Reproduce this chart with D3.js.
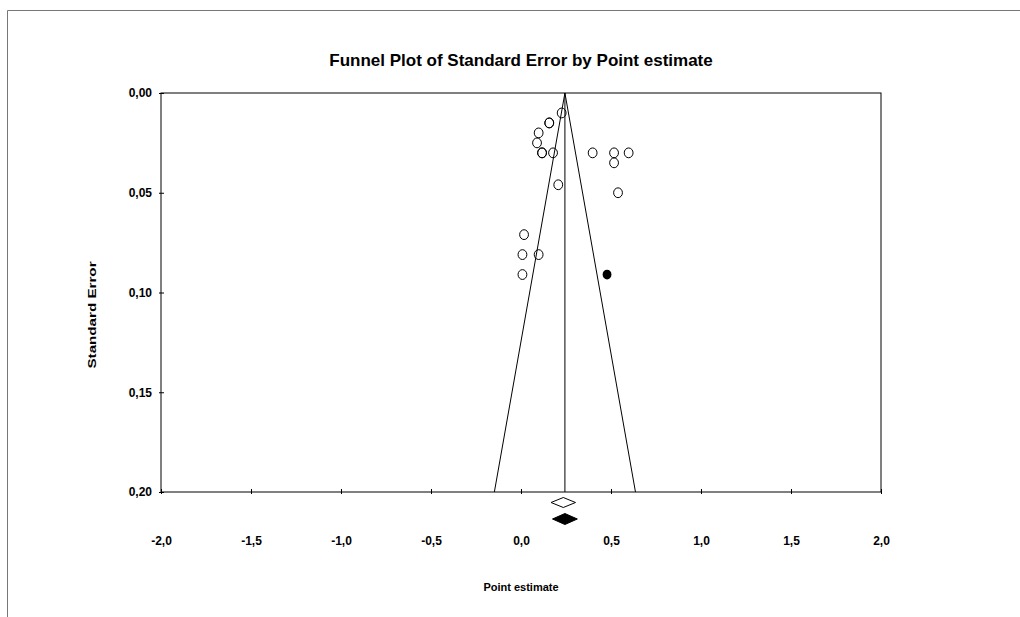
<!DOCTYPE html>
<html>
<head>
<meta charset="utf-8">
<script src="https://cdn.jsdelivr.net/npm/d3@7"></script>
<style>
  body { margin: 0; background: #fff; }
  text { font-family: "Liberation Sans", Arial, sans-serif; font-weight: bold; fill: #000; }
</style>
</head>
<body>
<div id="chart"></div>
<script>
// observed studies (point estimate, standard error)
const estimates = [0.226, 0.157, 0.157, 0.098, 0.089, 0.117, 0.117, 0.178, 0.398, 0.517, 0.598, 0.517, 0.207, 0.539, 0.017, 0.008, 0.098, 0.008]
const stdErrors = [0.010, 0.015, 0.015, 0.020, 0.025, 0.030, 0.030, 0.030, 0.030, 0.030, 0.030, 0.035, 0.046, 0.050, 0.071, 0.081, 0.081, 0.091]

// imputed study (trim and fill)
const imputedEstimates = [0.478]
const imputedStdErrors = [0.091]

// combined effects: observed and adjusted
const observedMean = 0.235
const adjustedMean = 0.244
const observedHalfWidth = 0.068
const adjustedHalfWidth = 0.069

const xTicks = [-2.0, -1.5, -1.0, -0.5, 0.0, 0.5, 1.0, 1.5, 2.0]
const yTicks = [0.00, 0.05, 0.10, 0.15, 0.20]

const W = 1020, H = 617
const margin = {top: 93, right: 139, bottom: 125, left: 161}
const width = W - margin.left - margin.right,
      height = H - margin.top - margin.bottom

const svg = d3.select("#chart")
  .append("svg")
    .attr("width", W)
    .attr("height", H)

// outer frame
svg.append("path")
  .attr("d", `M7.5,${H} L7.5,10.5 L${W},10.5`)
  .attr("fill", "none")
  .attr("stroke", "#777")
  .attr("stroke-width", 1)

const g = svg.append("g")
  .attr("transform", `translate(${margin.left}, ${margin.top})`)

const x = d3.scaleLinear().domain([-2, 2]).range([0, width])
const y = d3.scaleLinear().domain([0, 0.2]).range([0, height])

// plot box
g.append("rect")
  .attr("x", 0).attr("y", 0)
  .attr("width", width).attr("height", height)
  .attr("fill", "none")
  .attr("stroke", "#000")
  .attr("stroke-width", 1)

// X axis
const xAxis = g.append("g")
  .attr("transform", `translate(0, ${height})`)
  .call(d3.axisBottom(x).tickValues(xTicks).tickSize(0).tickPadding(0)
    .tickFormat(d => d3.format(".1f")(d).replace(".", ",").replace("−", "-")))
xAxis.select(".domain").remove()
xAxis.selectAll(".tick line").remove()
xAxis.selectAll(".tick").append("line")
  .attr("y1", -3).attr("y2", 2)
  .attr("stroke", "#000")
xAxis.selectAll("text")
  .attr("y", 44)
  .attr("font-size", 12)

// Y axis
const yAxis = g.append("g")
  .call(d3.axisLeft(y).tickValues(yTicks).tickSize(0).tickPadding(0)
    .tickFormat(d => d3.format(".2f")(d).replace(".", ",")))
yAxis.select(".domain").remove()
yAxis.selectAll(".tick line").remove()
yAxis.selectAll(".tick").append("line")
  .attr("x1", -2).attr("x2", 3)
  .attr("stroke", "#000")
yAxis.selectAll("text")
  .attr("x", -9)
  .attr("font-size", 12)

// funnel
const seMax = 0.2
g.append("path")
  .attr("d", d3.line()([
    [x(adjustedMean - 1.96 * seMax), y(seMax)],
    [x(adjustedMean), y(0)],
    [x(adjustedMean + 1.96 * seMax), y(seMax)]
  ]))
  .attr("fill", "none")
  .attr("stroke", "#000")
  .attr("stroke-width", 1)

g.append("line")
  .attr("x1", x(adjustedMean)).attr("x2", x(adjustedMean))
  .attr("y1", y(0)).attr("y2", y(seMax))
  .attr("stroke", "#000")

// observed points
const pts = estimates.map((e, i) => ({e, se: stdErrors[i]}))
g.selectAll(".obs")
  .data(pts)
  .join("ellipse")
  .attr("class", "obs")
  .attr("cx", d => x(d.e))
  .attr("cy", d => y(d.se))
  .attr("rx", 4.4).attr("ry", 4.9)
  .attr("fill", "none")
  .attr("stroke", "#000")
  .attr("stroke-width", 1)

// imputed points
const imp = imputedEstimates.map((e, i) => ({e, se: imputedStdErrors[i]}))
g.selectAll(".imp")
  .data(imp)
  .join("ellipse")
  .attr("class", "imp")
  .attr("cx", d => x(d.e))
  .attr("cy", d => y(d.se))
  .attr("rx", 4.4).attr("ry", 4.9)
  .attr("fill", "#000")

// diamonds
function diamond(cx, cy, hw, hh) {
  return `M${cx - hw},${cy} L${cx},${cy - hh} L${cx + hw},${cy} L${cx},${cy + hh} Z`
}
g.append("path")
  .attr("d", diamond(x(observedMean), height + 10.5, x(observedHalfWidth) - x(0), 5))
  .attr("fill", "#fff")
  .attr("stroke", "#000")
g.append("path")
  .attr("d", diamond(x(adjustedMean), height + 27, x(adjustedHalfWidth) - x(0), 5.5))
  .attr("fill", "#000")
  .attr("stroke", "#000")

// title and labels
svg.append("text")
  .attr("x", 521).attr("y", 66)
  .attr("text-anchor", "middle")
  .attr("font-size", 17)
  .text("Funnel Plot of Standard Error by Point estimate")

svg.append("text")
  .attr("x", 521).attr("y", 591)
  .attr("text-anchor", "middle")
  .attr("font-size", 11)
  .text("Point estimate")

// rotated label is drawn stretched along its length in the original
svg.append("text")
  .attr("transform", "translate(96, 315) rotate(-90) scale(1.38, 1)")
  .attr("text-anchor", "middle")
  .attr("font-size", 11)
  .text("Standard Error")
</script>
</body>
</html>
